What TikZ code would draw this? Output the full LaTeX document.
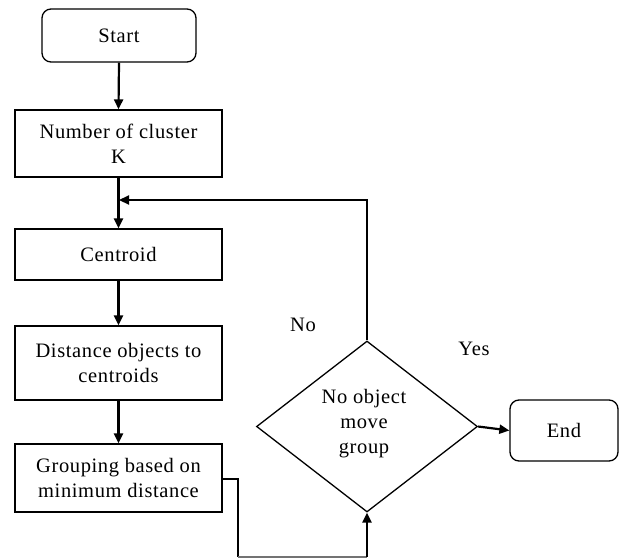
\documentclass[tikz,border=0pt]{standalone}
\usepackage{fontspec}
\setmainfont{Liberation Serif}[LetterSpace=3]
\usetikzlibrary{arrows.meta,shapes.geometric}
\begin{document}
\begin{tikzpicture}[x=1pt,y=-1pt,
  every node/.style={font=\fontsize{20.5}{25}\selectfont, align=center, text=black},
  termbox/.style={draw, line width=1.3pt, rounded corners=9pt, inner sep=0pt},
  procbox/.style={draw, line width=1.3pt, inner sep=0pt, minimum width=207pt},
  decbox/.style={draw, line width=1.3pt, diamond, inner sep=0pt, minimum width=221pt, minimum height=171pt},
  flow/.style={line width=2.2pt, -{Triangle[length=10pt,width=9pt]}},
  plainline/.style={line width=2.2pt},
  thinline/.style={line width=1.2pt, black!55},
  lbl/.style={}]
\useasboundingbox (0,0) rectangle (619,560);
\node[termbox, minimum width=154pt, minimum height=53pt] (start) at (119,35.5) {Start};
\node[procbox, minimum height=67pt] (num) at (118.5,143.5) {Number of cluster\\K};
\node[procbox, minimum height=51pt] (cen) at (118.5,254.5) {Centroid};
\node[procbox, minimum height=74pt] (dist) at (118.5,363) {Distance objects to\\centroids};
\node[procbox, minimum height=68pt] (grp) at (118.5,478) {Grouping based on\\minimum distance};
\node[decbox] (dec) at (367,426.5) {};
\node (dectext) at (364,424) {No object\\move\\group};
\node[termbox, minimum width=108pt, minimum height=61pt] (end) at (564,430.5) {End};
\node[lbl] (no) at (303,325) {No};
\node[lbl] (yes) at (474,349) {Yes};
\coordinate (join) at (118,200);
\coordinate (top) at (367,200);
\coordinate (c1) at (238,479);
\coordinate (c2) at (238,557);
\coordinate (c3) at (367,557);
\draw[flow] (start.south) -- (num.north);
\draw[flow] (num.south) -- (cen.north);
\draw[flow] (cen.south) -- (dist.north);
\draw[flow] (dist.south) -- (grp.north);
\draw[flow] (dec.north) -- (top) -- ([xshift=1pt]join);
\draw[flow] (dec.east) -- (end.west);
\draw[plainline] (grp.east |- c1) -- (c1) -- (c2);
\draw[thinline] (c2) -- (c3);
\draw[flow] (c3) -- (dec.south);
\end{tikzpicture}
\end{document}
